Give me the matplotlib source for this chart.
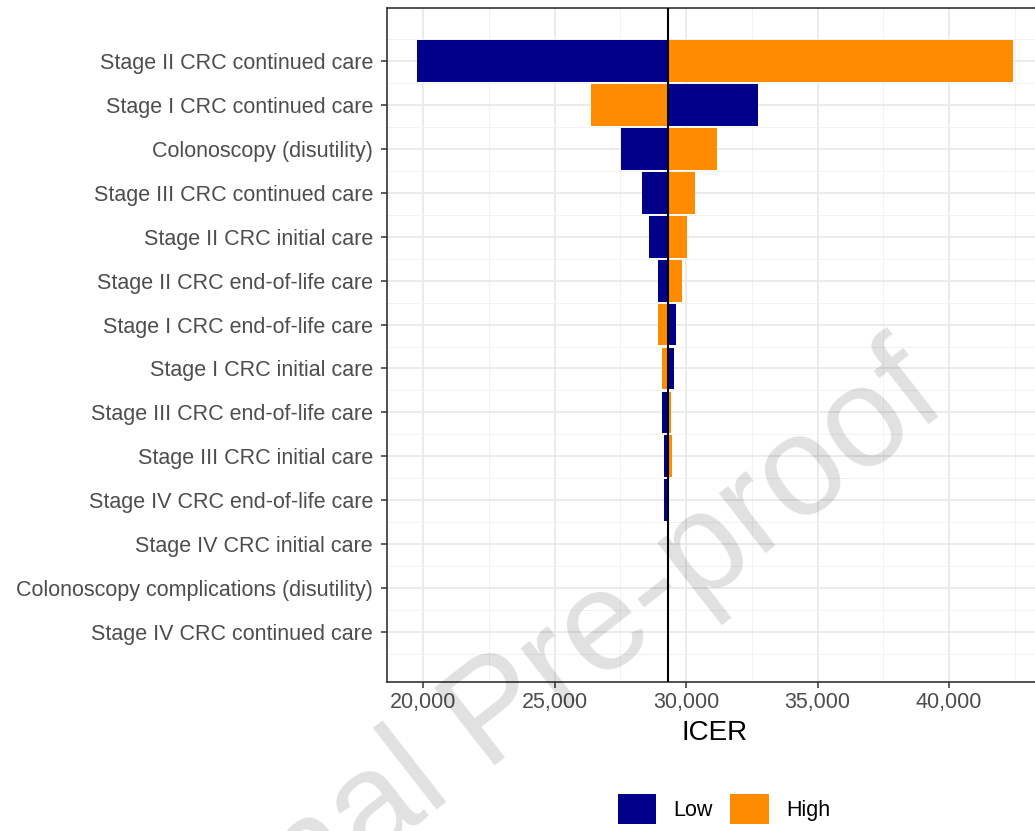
import matplotlib
matplotlib.use("Agg")
import matplotlib.pyplot as plt
from matplotlib.patches import Patch
from matplotlib.ticker import FixedLocator, FuncFormatter

plt.rcParams['font.family'] = ['Liberation Sans', 'DejaVu Sans']

# ---- data (top to bottom) ----
labels = [
    "Stage II CRC continued care",
    "Stage I CRC continued care",
    "Colonoscopy (disutility)",
    "Stage III CRC continued care",
    "Stage II CRC initial care",
    "Stage II CRC end-of-life care",
    "Stage I CRC end-of-life care",
    "Stage I CRC initial care",
    "Stage III CRC end-of-life care",
    "Stage III CRC initial care",
    "Stage IV CRC end-of-life care",
    "Stage IV CRC initial care",
    "Colonoscopy complications (disutility)",
    "Stage IV CRC continued care",
]
low_values = [19770, 32720, 27530, 28330, 28600, 28940, 29620, 29540,
              29090, 29160, 29160, 29320, 29320, 29320]
high_values = [42430, 26390, 31180, 30340, 30040, 29850, 28940, 29090,
               29430, 29470, 29320, 29320, 29320, 29320]
base_icer = 29320
x_ticks = [20000, 25000, 30000, 35000, 40000]

low_color = "#00008B"
high_color = "#FF8C00"

W, H = 1035, 831
fig = plt.figure(figsize=(W / 100, H / 100), dpi=100)
left_px, right_px, top_px, bot_px = 387, 1043, 8, 682
ax = fig.add_axes([left_px / W, 1 - bot_px / H,
                   (right_px - left_px) / W, (bot_px - top_px) / H])

n = len(labels)
ypos = [n - 1 - i for i in range(n)]

ax.barh(ypos, [lv - base_icer for lv in low_values], left=base_icer,
        height=0.95, color=low_color, zorder=2, linewidth=0)
ax.barh(ypos, [hv - base_icer for hv in high_values], left=base_icer,
        height=0.95, color=high_color, zorder=2, linewidth=0)
ax.axvline(base_icer, color="black", linewidth=1.5, zorder=3)

ax.set_xlim(18631, 43573)
ax.set_ylim(-1.14, n - 1 + 1.21)

ax.xaxis.set_major_locator(FixedLocator(x_ticks))
ax.xaxis.set_minor_locator(FixedLocator([17500, 22500, 27500, 32500, 37500, 42500]))
ax.xaxis.set_major_formatter(FuncFormatter(lambda v, p: f"{int(v):,}"))
ax.yaxis.set_major_locator(FixedLocator(ypos))
ax.yaxis.set_minor_locator(FixedLocator([y - 0.5 for y in range(n + 1)]))
ax.set_yticklabels(labels)

ax.grid(which="major", color="#e8e8e8", linewidth=1.2, zorder=0)
ax.grid(which="minor", color="#f2f2f2", linewidth=0.7, zorder=0)
ax.set_axisbelow(True)

ax.tick_params(axis="both", which="major", labelsize=15.5, labelcolor="#4d4d4d",
               color="#333333", length=4.5, width=1.1, pad=2.5)
ax.tick_params(axis="y", which="major", pad=5.5)
ax.tick_params(axis="both", which="minor", length=0)
for s in ax.spines.values():
    s.set_color("#333333")
    s.set_linewidth(1.2)

ax.set_xlabel("ICER", fontsize=20, color="black", labelpad=5)

handles = [Patch(facecolor=low_color, label="Low"),
           Patch(facecolor=high_color, label="High")]
fig.legend(handles=handles, loc="center", bbox_to_anchor=(724 / W, 1 - 809 / H),
           ncol=2, frameon=False, fontsize=15.5, handlelength=1.8,
           handleheight=1.8, handletextpad=0.8, columnspacing=0.8,
           borderpad=0)

fig.text(497 / W, 1 - 716 / H, "Journal Pre-proof", rotation=38,
         rotation_mode="anchor", ha="center", va="center", fontsize=102,
         color="black", alpha=0.12, zorder=10)

fig.savefig("out.png", dpi=100)
